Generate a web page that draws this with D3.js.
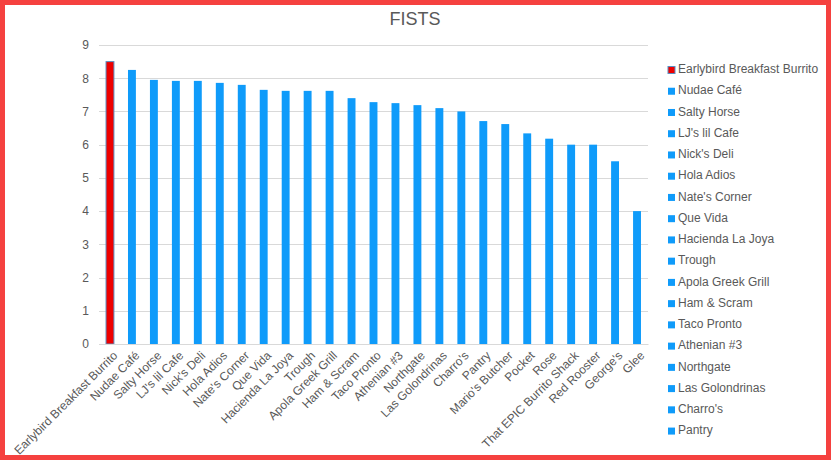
<!DOCTYPE html>
<html>
<head>
<meta charset="utf-8">
<script src="https://cdn.jsdelivr.net/npm/d3@7"></script>
<style>
  html, body { margin: 0; padding: 0; background: #fff; }
  svg { display: block; font-family: "Liberation Sans", Arial, sans-serif; }
</style>
</head>
<body>
<svg id="chart" width="831" height="460"></svg>
<script>
const categories = ["Earlybird Breakfast Burrito","Nudae Café","Salty Horse","LJ's lil Cafe","Nick's Deli","Hola Adios","Nate's Corner","Que Vida","Hacienda La Joya","Trough","Apola Greek Grill","Ham & Scram","Taco Pronto","Athenian #3","Northgate","Las Golondrinas","Charro's","Pantry","Mario's Butcher","Pocket","Rose","That EPIC Burrito Shack","Red Rooster","George's","Glee"];
const values = [8.5, 8.25, 7.95, 7.92, 7.92, 7.86, 7.8, 7.65, 7.62, 7.62, 7.62, 7.4, 7.28, 7.25, 7.19, 7.1, 7.0, 6.71, 6.62, 6.34, 6.18, 6.0, 6.0, 5.5, 4.0];
const legendItems = categories.slice(0, 18);
const yTicks = [0,1,2,3,4,5,6,7,8,9];
const title = "FISTS";

const svg = d3.select("#chart");
const W = 831, H = 460;
const textColor = "#595959";

// outer red frame
svg.append("rect").attr("x", 0).attr("y", 0).attr("width", W).attr("height", H).attr("fill", "#F5413F");
svg.append("rect").attr("x", 5).attr("y", 5).attr("width", W - 10).attr("height", H - 10).attr("fill", "#fff");

const plot = { left: 99, right: 648, top: 45, bottom: 344 };

const x = d3.scaleBand().domain(categories).range([plot.left, plot.right]).paddingInner(0.64).paddingOuter(0.32);
const y = d3.scaleLinear().domain([0, 9]).range([plot.bottom, plot.top]);

// title
svg.append("text").attr("x", 415).attr("y", 25).attr("text-anchor", "middle")
  .attr("font-size", 18).attr("fill", textColor).text(title);

// gridlines
svg.append("g").selectAll("line").data(yTicks).join("line")
  .attr("x1", plot.left).attr("x2", plot.right)
  .attr("y1", d => Math.round(y(d)) + 0.5).attr("y2", d => Math.round(y(d)) + 0.5)
  .attr("stroke", "#d9d9d9").attr("stroke-width", 1);

// y axis labels
const yAxis = d3.axisLeft(y).tickValues(yTicks).tickSize(0).tickPadding(10);
const gy = svg.append("g").attr("transform", `translate(${plot.left},0)`).call(yAxis);
gy.select(".domain").remove();
gy.selectAll("text").attr("font-size", 12).attr("fill", textColor).attr("font-family", "Liberation Sans, Arial, sans-serif");

// bars
svg.append("g").selectAll("rect").data(categories).join("rect")
  .attr("x", d => x(d)).attr("width", x.bandwidth())
  .attr("y", (d, i) => y(values[i])).attr("height", (d, i) => y(0) - y(values[i]))
  .attr("fill", (d, i) => i === 0 ? "#EE0000" : "#0F9BFA")
  .attr("stroke", (d, i) => i === 0 ? "#5B8FC2" : "none")
  .attr("stroke-width", 1);

// x axis labels
const xAxis = d3.axisBottom(x).tickSize(0).tickPadding(0);
const gx = svg.append("g").attr("transform", `translate(0,${plot.bottom})`).call(xAxis);
gx.select(".domain").attr("stroke", "#d9d9d9");
gx.selectAll("text")
  .attr("font-size", 12).attr("fill", textColor).attr("font-family", "Liberation Sans, Arial, sans-serif")
  .attr("text-anchor", "end")
  .attr("dy", null).attr("y", 0)
  .attr("transform", "translate(6,10) rotate(-45)")
  .attr("dominant-baseline", "middle");

// legend
const lg = svg.append("g").selectAll("g").data(legendItems).join("g")
  .attr("transform", (d, i) => `translate(668, ${70 + i * 21.24})`);
lg.append("rect").attr("x", 0).attr("y", -3.5).attr("width", 7).attr("height", 7)
  .attr("fill", (d, i) => i === 0 ? "#EE0000" : "#0F9BFA")
  .attr("stroke", (d, i) => i === 0 ? "#5B8FC2" : "none").attr("stroke-width", 1);
lg.append("text").attr("x", 10).attr("y", 0).attr("dominant-baseline", "middle")
  .attr("font-size", 12).attr("fill", textColor).text(d => d);
</script>
</body>
</html>
